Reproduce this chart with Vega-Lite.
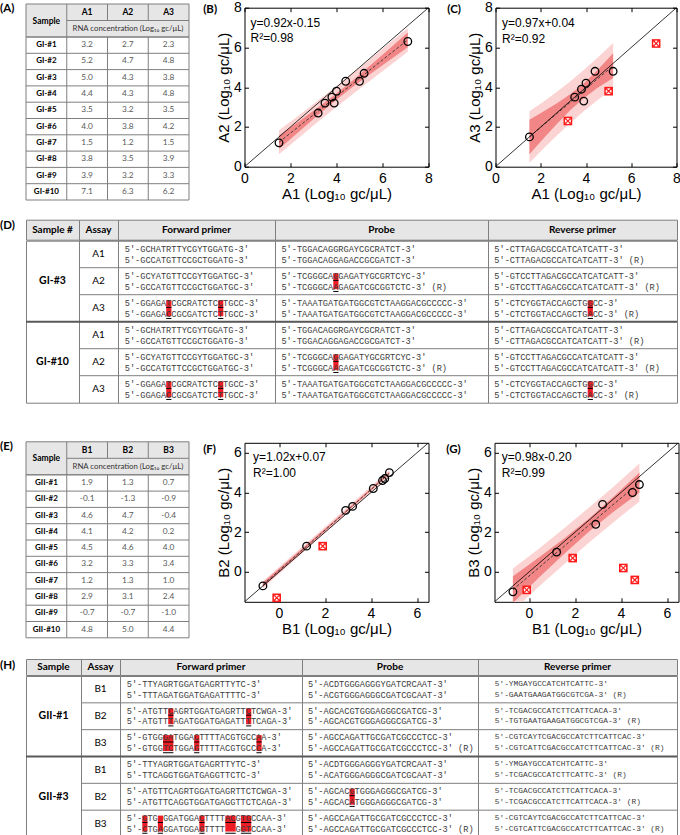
{
"$schema":"https://vega.github.io/schema/vega-lite/v6.json",
"background":"white",
"padding":{"left":0,"top":0,"right":0,"bottom":0},
"config":{
 "view":{"stroke":null},
 "concat":{"spacing":0},
 "locale":{"number":{"decimal":".","thousands":",","grouping":[3],"currency":["$",""],"minus":"-"}},
 "axis":{"grid":false,"domain":false,"tickSize":-4,"tickColor":"black","tickWidth":1,"labelFontSize":14,"labelFont":"Liberation Sans","labelColor":"black","labelFlush":false,"titleFont":"Liberation Sans","titleFontSize":15,"titleFontWeight":"normal","titleColor":"black"},
 "title":{"anchor":"start","frame":"group","font":"Lato","fontSize":11.5,"fontWeight":"bold","color":"black"}
},
"datasets":{
 "gi":[
  {"sample":"GI-#1","A1":3.2,"A2":2.7,"A3":2.3,"A3out":true},
  {"sample":"GI-#2","A1":5.2,"A2":4.7,"A3":4.8,"A3out":false},
  {"sample":"GI-#3","A1":5.0,"A2":4.3,"A3":3.8,"A3out":true},
  {"sample":"GI-#4","A1":4.4,"A2":4.3,"A3":4.8,"A3out":false},
  {"sample":"GI-#5","A1":3.5,"A2":3.2,"A3":3.5,"A3out":false},
  {"sample":"GI-#6","A1":4.0,"A2":3.8,"A3":4.2,"A3out":false},
  {"sample":"GI-#7","A1":1.5,"A2":1.2,"A3":1.5,"A3out":false},
  {"sample":"GI-#8","A1":3.8,"A2":3.5,"A3":3.9,"A3out":false},
  {"sample":"GI-#9","A1":3.9,"A2":3.2,"A3":3.3,"A3out":false},
  {"sample":"GI-#10","A1":7.1,"A2":6.3,"A3":6.2,"A3out":true}
 ],
 "gii":[
  {"sample":"GII-#1","B1":1.9,"B2":1.3,"B3":0.7,"B2out":true,"B3out":true},
  {"sample":"GII-#2","B1":-0.1,"B2":-1.3,"B3":-0.9,"B2out":true,"B3out":true},
  {"sample":"GII-#3","B1":4.6,"B2":4.7,"B3":-0.4,"B2out":false,"B3out":true},
  {"sample":"GII-#4","B1":4.1,"B2":4.2,"B3":0.2,"B2out":false,"B3out":true},
  {"sample":"GII-#5","B1":4.5,"B2":4.6,"B3":4.0,"B2out":false,"B3out":false},
  {"sample":"GII-#6","B1":3.2,"B2":3.3,"B3":3.4,"B2out":false,"B3out":false},
  {"sample":"GII-#7","B1":1.2,"B2":1.3,"B3":1.0,"B2out":false,"B3out":false},
  {"sample":"GII-#8","B1":2.9,"B2":3.1,"B3":2.4,"B2out":false,"B3out":false},
  {"sample":"GII-#9","B1":-0.7,"B2":-0.7,"B3":-1.0,"B2out":false,"B3out":false},
  {"sample":"GII-#10","B1":4.8,"B2":5.0,"B3":4.4,"B2out":false,"B3out":false}
 ],
 "bandB":[
  {"x":1.5,"fit":1.23,"clo":0.89,"chi":1.57,"plo":0.63,"phi":1.84},
  {"x":2.3,"fit":1.97,"clo":1.70,"chi":2.23,"plo":1.40,"phi":2.53},
  {"x":3.1,"fit":2.70,"clo":2.50,"chi":2.90,"plo":2.17,"phi":3.24},
  {"x":3.9,"fit":3.44,"clo":3.28,"chi":3.60,"plo":2.91,"phi":3.96},
  {"x":4.7,"fit":4.17,"clo":4.01,"chi":4.34,"plo":3.65,"phi":4.70},
  {"x":5.5,"fit":4.91,"clo":4.69,"chi":5.13,"plo":4.36,"phi":5.46},
  {"x":6.3,"fit":5.65,"clo":5.36,"chi":5.94,"plo":5.07,"phi":6.22},
  {"x":7.1,"fit":6.38,"clo":6.01,"chi":6.75,"plo":5.78,"phi":6.98}
 ],
 "bandC":[
  {"x":1.5,"fit":1.50,"clo":0.63,"chi":2.36,"plo":0.20,"phi":2.79},
  {"x":2.1,"fit":2.08,"clo":1.39,"chi":2.76,"plo":0.89,"phi":3.26},
  {"x":2.7,"fit":2.66,"clo":2.14,"chi":3.18,"plo":1.56,"phi":3.76},
  {"x":3.3,"fit":3.24,"clo":2.84,"chi":3.64,"plo":2.19,"phi":4.29},
  {"x":3.9,"fit":3.82,"clo":3.45,"chi":4.19,"plo":2.79,"phi":4.86},
  {"x":4.5,"fit":4.41,"clo":3.96,"chi":4.85,"plo":3.34,"phi":5.47},
  {"x":5.2,"fit":5.08,"clo":4.46,"chi":5.71,"plo":3.93,"phi":6.23}
 ],
 "bandF":[
  {"x":-0.7,"fit":-0.64,"clo":-0.76,"chi":-0.53,"plo":-0.83,"phi":-0.46},
  {"x":0.4,"fit":0.48,"clo":0.39,"chi":0.57,"plo":0.31,"phi":0.65},
  {"x":1.5,"fit":1.60,"clo":1.53,"chi":1.67,"plo":1.44,"phi":1.76},
  {"x":2.6,"fit":2.72,"clo":2.67,"chi":2.78,"plo":2.57,"phi":2.88},
  {"x":3.7,"fit":3.84,"clo":3.79,"chi":3.90,"plo":3.69,"phi":4.00},
  {"x":4.8,"fit":4.97,"clo":4.90,"chi":5.04,"plo":4.81,"phi":5.13}
 ],
 "bandG":[
  {"x":-0.7,"fit":-0.89,"clo":-1.56,"chi":-0.22,"plo":-1.94,"phi":0.17},
  {"x":0.4,"fit":0.19,"clo":-0.32,"chi":0.71,"plo":-0.77,"phi":1.15},
  {"x":1.5,"fit":1.27,"clo":0.88,"chi":1.66,"plo":0.37,"phi":2.17},
  {"x":2.6,"fit":2.35,"clo":2.02,"chi":2.68,"plo":1.47,"phi":3.23},
  {"x":3.7,"fit":3.43,"clo":3.05,"chi":3.81,"plo":2.53,"phi":4.32},
  {"x":4.8,"fit":4.50,"clo":4.00,"chi":5.00,"plo":3.55,"phi":5.46}
 ],
 "seqD":[
  {"sample":"GI-#3","assay":"A1","key":"GI-#3 A1","f1":"5′-GCHATRTTYCGYTGGATG-3′","f2":"5′-GCCATGTTCCGCTGGATG-3′","p1":"5′-TGGACAGGRGAYCGCRATCT-3′","p2":"5′-TGGACAGGAGACCGCGATCT-3′","r1":"5′-CTTAGACGCCATCATCATT-3′","r2":"5′-CTTAGACGCCATCATCATT-3′ (R)"},
  {"sample":"GI-#3","assay":"A2","key":"GI-#3 A2","f1":"5′-GCYATGTTCCGYTGGATGC-3′","f2":"5′-GCCATGTTCCGCTGGATGC-3′","p1":"5′-TCGGGCAGGAGATYGCGRTCYC-3′","p2":"5′-TCGGGCAAGAGATCGCGGTCTC-3′ (R)","r1":"5′-GTCCTTAGACGCCATCATCATT-3′","r2":"5′-GTCCTTAGACGCCATCATCATT-3′ (R)"},
  {"sample":"GI-#3","assay":"A3","key":"GI-#3 A3","f1":"5′-GGAGATCGCRATCTCCTGCC-3′","f2":"5′-GGAGACCGCGATCTCTTGCC-3′","p1":"5′-TAAATGATGATGGCGTCTAAGGACGCCCCC-3′","p2":"5′-TAAATGATGATGGCGTCTAAGGACGCCCCC-3′","r1":"5′-CTCYGGTACCAGCTGGCC-3′","r2":"5′-CTCTGGTACCAGCTGACC-3′ (R)"},
  {"sample":"GI-#10","assay":"A1","key":"GI-#10 A1","f1":"5′-GCHATRTTYCGYTGGATG-3′","f2":"5′-GCCATGTTCCGCTGGATG-3′","p1":"5′-TGGACAGGRGAYCGCRATCT-3′","p2":"5′-TGGACAGGAGACCGCGATCT-3′","r1":"5′-CTTAGACGCCATCATCATT-3′","r2":"5′-CTTAGACGCCATCATCATT-3′ (R)"},
  {"sample":"GI-#10","assay":"A2","key":"GI-#10 A2","f1":"5′-GCYATGTTCCGYTGGATGC-3′","f2":"5′-GCCATGTTCCGCTGGATGC-3′","p1":"5′-TCGGGCAGGAGATYGCGRTCYC-3′","p2":"5′-TCGGGCAAGAGATCGCGGTCTC-3′ (R)","r1":"5′-GTCCTTAGACGCCATCATCATT-3′","r2":"5′-GTCCTTAGACGCCATCATCATT-3′ (R)"},
  {"sample":"GI-#10","assay":"A3","key":"GI-#10 A3","f1":"5′-GGAGATCGCRATCTCCTGCC-3′","f2":"5′-GGAGACCGCGATCTCTTGCC-3′","p1":"5′-TAAATGATGATGGCGTCTAAGGACGCCCCC-3′","p2":"5′-TAAATGATGATGGCGTCTAAGGACGCCCCC-3′","r1":"5′-CTCYGGTACCAGCTGGCC-3′","r2":"5′-CTCTGGTACCAGCTGACC-3′ (R)"}
 ],
 "seqH":[
  {"sample":"GII-#1","assay":"B1","key":"GII-#1 B1","f1":"5′-TTYAGRTGGATGAGRTTYTC-3′","f2":"5′-TTTAGATGGATGAGATTTTC-3′","p1":"5′-ACDTGGGAGGGYGATCRCAAT-3′","p2":"5′-ACGTGGGAGGGCGATCGCAAT-3′","r1":"5′-YMGAYGCCATCHTCATTC-3′","r2":"5′-GAATGAAGATGGCGTCGA-3′ (R)"},
  {"sample":"GII-#1","assay":"B2","key":"GII-#1 B2","f1":"5′-ATGTTCAGRTGGATGAGRTTCTCWGA-3′","f2":"5′-ATGTTTAGATGGATGAGATTTTCAGA-3′","p1":"5′-AGCACGTGGGAGGGCGATCG-3′","p2":"5′-AGCACGTGGGAGGGCGATCG-3′","r1":"5′-TCGACGCCATCTTCATTCACA-3′","r2":"5′-TGTGAATGAAGATGGCGTCGA-3′ (R)"},
  {"sample":"GII-#1","assay":"B3","key":"GII-#1 B3","f1":"5′-GTGGGATGGACTTTTACGTGCCAA-3′","f2":"5′-GTGGTCTGGAGTTTTACGTGCCCA-3′","p1":"5′-AGCCAGATTGCGATCGCCCTCC-3′","p2":"5′-AGCCAGATTGCGATCGCCCTCC-3′ (R)","r1":"5′-CGTCAYTCGACGCCATCTTCATTCAC-3′","r2":"5′-CGTCATTCGACGCCATCTTCATTCAC-3′ (R)"},
  {"sample":"GII-#3","assay":"B1","key":"GII-#3 B1","f1":"5′-TTYAGRTGGATGAGRTTYTC-3′","f2":"5′-TTCAGGTGGATGAGGTTCTC-3′","p1":"5′-ACDTGGGAGGGYGATCRCAAT-3′","p2":"5′-ACATGGGAGGGCGATCGCAAT-3′","r1":"5′-YMGAYGCCATCHTCATTC-3′","r2":"5′-TCGACGCCATCTTCATTC-3′ (R)"},
  {"sample":"GII-#3","assay":"B2","key":"GII-#3 B2","f1":"5′-ATGTTCAGRTGGATGAGRTTCTCWGA-3′","f2":"5′-ATGTTCAGGTGGATGAGGTTCTCAGA-3′","p1":"5′-AGCACGTGGGAGGGCGATCG-3′","p2":"5′-AGCACATGGGAGGGCGATCG-3′","r1":"5′-TCGACGCCATCTTCATTCACA-3′","r2":"5′-TCGACGCCATCTTCATTCACA-3′ (R)"},
  {"sample":"GII-#3","assay":"B3","key":"GII-#3 B3","f1":"5′-GTG\u00a0GGATGGACTTTTACGTGCCAA-3′","f2":"5′-CTGAGGATGGAGTTTT\u00a0\u00a0GGTCCAA-3′","p1":"5′-AGCCAGATTGCGATCGCCCTCC-3′","p2":"5′-AGCCAGATTGCGATCGCCCTCC-3′ (R)","r1":"5′-CGTCAYTCGACGCCATCTTCATTCAC-3′","r2":"5′-CGTCATTCGACGCCATCTTCATTCAC-3′ (R)"}
 ],
 "hlDF":[{"key":"GI-#3 A3","s":8,"e":9},{"key":"GI-#3 A3","s":18,"e":19},{"key":"GI-#10 A3","s":8,"e":9},{"key":"GI-#10 A3","s":18,"e":19}],
 "hlDP":[{"key":"GI-#3 A2","s":10,"e":11},{"key":"GI-#10 A2","s":10,"e":11}],
 "hlDR":[{"key":"GI-#3 A3","s":18,"e":19},{"key":"GI-#10 A3","s":18,"e":19}],
 "hlHF":[{"key":"GII-#1 B2","s":8,"e":9},{"key":"GII-#1 B2","s":23,"e":24},{"key":"GII-#1 B3","s":7,"e":9},{"key":"GII-#1 B3","s":13,"e":14},{"key":"GII-#1 B3","s":25,"e":26},{"key":"GII-#3 B3","s":3,"e":4},{"key":"GII-#3 B3","s":6,"e":7},{"key":"GII-#3 B3","s":14,"e":15},{"key":"GII-#3 B3","s":19,"e":21},{"key":"GII-#3 B3","s":22,"e":24}],
 "hlHP":[{"key":"GII-#3 B2","s":8,"e":9}]
},
"vconcat":[
 {"vconcat":[
  {"hconcat":[
   {"title":{"text":"(A)","offset":-10.8,"dx":-26},"bounds":"flush","spacing":0,"vconcat":[
    {"width":163,"height":33,"view":{"fill":"#e7e6e6"},"layer":[
     {"data":{"values":[{"c":"A2"},{"c":"A3"}]},"mark":{"type":"rule","color":"#7f7f7f"},"encoding":{"x":{"field":"c","type":"nominal","bandPosition":0,"scale":{"type":"band","domain":["Sample","A1","A2","A3"],"paddingInner":0,"paddingOuter":0},"axis":null}}},
     {"data":{"values":[{"r":"h2"}]},"mark":{"type":"rect","color":"#e7e6e6"},"encoding":{"y":{"field":"r","type":"nominal","scale":{"type":"band","domain":["h1","h2"],"paddingInner":0,"paddingOuter":0},"axis":null}}},
     {"data":{"values":[{"r":"h2"}]},"mark":{"type":"rule","color":"#7f7f7f"},"encoding":{"y":{"field":"r","type":"nominal","bandPosition":0,"axis":null}}},
     {"data":{"values":[{"c":"Sample"}]},"mark":{"type":"rect","color":"#e7e6e6"},"encoding":{"x":{"field":"c","type":"nominal","axis":null}}},
     {"data":{"values":[{"c":"Sample"},{"c":"A1"}]},"mark":{"type":"rule","color":"#7f7f7f"},"encoding":{"x":{"field":"c","type":"nominal","bandPosition":0,"axis":null}}},
     {"data":{"values":[{"c":"A3"}]},"mark":{"type":"rule","color":"#7f7f7f"},"encoding":{"x":{"field":"c","type":"nominal","bandPosition":1,"axis":null}}},
     {"data":{"values":[{"r":"h1"}]},"mark":{"type":"rule","color":"#7f7f7f"},"encoding":{"y":{"field":"r","type":"nominal","bandPosition":0,"axis":null}}},
     {"data":{"values":[{"r":"h2"}]},"mark":{"type":"rule","color":"#7f7f7f"},"encoding":{"y":{"field":"r","type":"nominal","bandPosition":1,"axis":null}}},
     {"data":{"values":[{"c":"Sample","r":"h1","t":"Sample"}]},"mark":{"type":"text","font":"Lato","fontWeight":"bold","fontSize":8.5,"color":"black"},"encoding":{"x":{"field":"c","type":"nominal","axis":null},"y":{"field":"r","type":"nominal","bandPosition":1,"axis":null},"text":{"field":"t"}}},
     {"data":{"values":[{"c":"A1","r":"h1","t":"A1"},{"c":"A2","r":"h1","t":"A2"},{"c":"A3","r":"h1","t":"A3"}]},"mark":{"type":"text","font":"Lato","fontWeight":"bold","fontSize":8.5,"color":"black"},"encoding":{"x":{"field":"c","type":"nominal","axis":null},"y":{"field":"r","type":"nominal","axis":null},"text":{"field":"t"}}},
     {"data":{"values":[{"c":"A2","r":"h2","t":"RNA concentration (Log₁₀ gc/μL)"}]},"mark":{"type":"text","font":"Lato","fontSize":7.8,"color":"#333333"},"encoding":{"x":{"field":"c","type":"nominal","axis":null},"y":{"field":"r","type":"nominal","axis":null},"text":{"field":"t"}}}
    ]},
    {"width":163,"height":163,"layer":[
     {"data":{"name":"gi"},"mark":{"type":"rule","color":"#7f7f7f"},"encoding":{"y":{"field":"sample","type":"nominal","bandPosition":0,"scale":{"type":"band","domain":["GI-#1","GI-#2","GI-#3","GI-#4","GI-#5","GI-#6","GI-#7","GI-#8","GI-#9","GI-#10"],"paddingInner":0,"paddingOuter":0},"axis":null}}},
     {"data":{"values":[{"s":"GI-#10"}]},"mark":{"type":"rule","color":"#7f7f7f"},"encoding":{"y":{"field":"s","type":"nominal","bandPosition":1,"axis":null}}},
     {"data":{"values":[{"c":"Sample"},{"c":"A1"},{"c":"A2"},{"c":"A3"}]},"mark":{"type":"rule","color":"#7f7f7f"},"encoding":{"x":{"field":"c","type":"nominal","bandPosition":0,"scale":{"type":"band","domain":["Sample","A1","A2","A3"],"paddingInner":0,"paddingOuter":0},"axis":null}}},
     {"data":{"values":[{"c":"A3"}]},"mark":{"type":"rule","color":"#7f7f7f"},"encoding":{"x":{"field":"c","type":"nominal","bandPosition":1,"axis":null}}},
     {"data":{"name":"gi"},"mark":{"type":"text","font":"Lato","fontWeight":"bold","fontSize":8,"color":"black"},"encoding":{"x":{"datum":"Sample","type":"nominal","bandPosition":0.5,"axis":null},"y":{"field":"sample","type":"nominal","axis":null},"text":{"field":"sample"}}},
     {"data":{"name":"gi"},"transform":[{"fold":["A1","A2","A3"],"as":["col","val"]}],"mark":{"type":"text","font":"Lato","fontSize":8.3,"color":"#595959"},"encoding":{"x":{"field":"col","type":"nominal","axis":null},"y":{"field":"sample","type":"nominal","axis":null},"text":{"field":"val","type":"quantitative","format":".1f"}}}
    ]}
   ]},
   {"spacing":-5.3,"vconcat":[
    {"width":1,"height":1,"data":{"values":[]},"mark":"point"},
    {"spacing":13,"hconcat":[
    {"width":184,"height":159,"view":{"stroke":"black","strokeWidth":1},"title":{"text":"(B)","offset":-14.6,"dx":-41.3},
     "layer":[
      {"data":{"name":"bandB"},"mark":{"type":"area","color":"#fcd3d3","opacity":1,"clip":true},"encoding":{
        "x":{"field":"x","type":"quantitative","scale":{"domain":[0,8],"nice":false,"zero":false},"axis":{"orient":"bottom","values":[0,2,4,6,8],"title":"A1 (Log₁₀ gc/μL)","labelPadding":8.3,"titlePadding":1}},
        "y":{"field":"plo","type":"quantitative","scale":{"domain":[0,8],"nice":false,"zero":false},"axis":{"orient":"left","values":[0,2,4,6,8],"title":"A2 (Log₁₀ gc/μL)","labelPadding":7.3,"titlePadding":2}},
        "y2":{"field":"phi"}}},
      {"data":{"name":"bandB"},"mark":{"type":"area","color":"#f28585","opacity":1,"clip":true},"encoding":{"x":{"field":"x","type":"quantitative","axis":null},"y":{"field":"clo","type":"quantitative","axis":null},"y2":{"field":"chi"}}},
      {"data":{"name":"bandB"},"mark":{"type":"line","color":"#333333","strokeWidth":0.9,"strokeDash":[3,2],"clip":true},"encoding":{"x":{"field":"x","type":"quantitative","axis":null},"y":{"field":"fit","type":"quantitative","axis":null}}},
      {"data":{"values":[{"u":0},{"u":8}]},"mark":{"type":"line","color":"black","strokeWidth":0.8,"clip":true},"encoding":{"x":{"field":"u","type":"quantitative","axis":{"orient":"top","values":[0,2,4,6,8],"labels":false,"title":null}},"y":{"field":"u","type":"quantitative","axis":{"orient":"right","values":[0,2,4,6,8],"labels":false,"title":null}}}},
      {"data":{"name":"gi"},"mark":{"type":"point","shape":"circle","filled":false,"color":"black","strokeWidth":1.3,"size":58,"opacity":1},"encoding":{"x":{"field":"A1","type":"quantitative","axis":null},"y":{"field":"A2","type":"quantitative","axis":null}}},
      {"data":{"values":[{"t":"y=0.92x-0.15"}]},"mark":{"type":"text","align":"left","baseline":"middle","font":"Liberation Sans","fontSize":12,"color":"black"},"encoding":{"x":{"datum":0.26,"type":"quantitative","axis":null},"y":{"datum":7.25,"type":"quantitative","axis":null},"text":{"field":"t"}}},
      {"data":{"values":[{"t":"R²=0.98"}]},"mark":{"type":"text","align":"left","baseline":"middle","font":"Liberation Sans","fontSize":12,"color":"black"},"encoding":{"x":{"datum":0.26,"type":"quantitative","axis":null},"y":{"datum":6.46,"type":"quantitative","axis":null},"text":{"field":"t"}}}
     ],
     "resolve":{"axis":{"x":"independent","y":"independent"}}},
    {"width":181,"height":159,"view":{"stroke":"black","strokeWidth":1},"title":{"text":"(C)","offset":-14.6,"dx":-48.3},
     "layer":[
      {"data":{"name":"bandC"},"mark":{"type":"area","color":"#fcd3d3","opacity":1,"clip":true},"encoding":{
        "x":{"field":"x","type":"quantitative","scale":{"domain":[0,8],"nice":false,"zero":false},"axis":{"orient":"bottom","values":[0,2,4,6,8],"title":"A1 (Log₁₀ gc/μL)","labelPadding":8.3,"titlePadding":1}},
        "y":{"field":"plo","type":"quantitative","scale":{"domain":[0,8],"nice":false,"zero":false},"axis":{"orient":"left","values":[0,2,4,6,8],"title":"A3 (Log₁₀ gc/μL)","labelPadding":7.3,"titlePadding":2}},
        "y2":{"field":"phi"}}},
      {"data":{"name":"bandC"},"mark":{"type":"area","color":"#f28585","opacity":1,"clip":true},"encoding":{"x":{"field":"x","type":"quantitative","axis":null},"y":{"field":"clo","type":"quantitative","axis":null},"y2":{"field":"chi"}}},
      {"data":{"name":"bandC"},"mark":{"type":"line","color":"#333333","strokeWidth":0.9,"strokeDash":[3,2],"clip":true},"encoding":{"x":{"field":"x","type":"quantitative","axis":null},"y":{"field":"fit","type":"quantitative","axis":null}}},
      {"data":{"values":[{"u":0},{"u":8}]},"mark":{"type":"line","color":"black","strokeWidth":0.8,"clip":true},"encoding":{"x":{"field":"u","type":"quantitative","axis":{"orient":"top","values":[0,2,4,6,8],"labels":false,"title":null}},"y":{"field":"u","type":"quantitative","axis":{"orient":"right","values":[0,2,4,6,8],"labels":false,"title":null}}}},
      {"data":{"name":"gi"},"transform":[{"filter":"!datum.A3out"}],"mark":{"type":"point","shape":"circle","filled":false,"color":"black","strokeWidth":1.3,"size":58,"opacity":1},"encoding":{"x":{"field":"A1","type":"quantitative","axis":null},"y":{"field":"A3","type":"quantitative","axis":null}}},
      {"data":{"name":"gi"},"transform":[{"filter":"datum.A3out"}],"mark":{"type":"point","shape":"square","filled":true,"color":"#ff1a1a","size":75,"opacity":1},"encoding":{"x":{"field":"A1","type":"quantitative","axis":null},"y":{"field":"A3","type":"quantitative","axis":null}}},
      {"data":{"name":"gi"},"transform":[{"filter":"datum.A3out"}],"mark":{"type":"point","shape":"circle","filled":true,"color":"white","size":34,"opacity":1},"encoding":{"x":{"field":"A1","type":"quantitative","axis":null},"y":{"field":"A3","type":"quantitative","axis":null}}},
      {"data":{"name":"gi"},"transform":[{"filter":"datum.A3out"}],"mark":{"type":"point","shape":"M-0.75,-0.75L0.75,0.75M-0.75,0.75L0.75,-0.75","filled":false,"color":"#ff1a1a","strokeWidth":1.2,"size":34,"opacity":1},"encoding":{"x":{"field":"A1","type":"quantitative","axis":null},"y":{"field":"A3","type":"quantitative","axis":null}}},
      {"data":{"values":[{"t":"y=0.97x+0.04"}]},"mark":{"type":"text","align":"left","baseline":"middle","font":"Liberation Sans","fontSize":12,"color":"black"},"encoding":{"x":{"datum":0.29,"type":"quantitative","axis":null},"y":{"datum":7.21,"type":"quantitative","axis":null},"text":{"field":"t"}}},
      {"data":{"values":[{"t":"R²=0.92"}]},"mark":{"type":"text","align":"left","baseline":"middle","font":"Liberation Sans","fontSize":12,"color":"black"},"encoding":{"x":{"datum":0.29,"type":"quantitative","axis":null},"y":{"datum":6.44,"type":"quantitative","axis":null},"text":{"field":"t"}}}
     ],
     "resolve":{"axis":{"x":"independent","y":"independent"}}}
    ]}
   ]}
  ],"spacing":12.5},
  {"title":{"text":"(D)","offset":-12.5,"dx":-26},"spacing":-1,"vconcat":[
   {"bounds":"flush","spacing":0,"hconcat":[
    {"width":53,"height":20,"view":{"fill":"#e7e6e6","stroke":"#7f7f7f"},"data":{"values":[{"t":"Sample #"}]},"mark":{"type":"text","font":"Lato","fontWeight":"bold","fontSize":10,"color":"black"},"encoding":{"text":{"field":"t"}}},
    {"width":39,"height":20,"view":{"fill":"#e7e6e6","stroke":"#7f7f7f"},"data":{"values":[{"t":"Assay"}]},"mark":{"type":"text","font":"Lato","fontWeight":"bold","fontSize":10,"color":"black"},"encoding":{"text":{"field":"t"}}},
    {"width":157,"height":20,"view":{"fill":"#e7e6e6","stroke":"#7f7f7f"},"data":{"values":[{"t":"Forward primer"}]},"mark":{"type":"text","font":"Lato","fontWeight":"bold","fontSize":10,"color":"black"},"encoding":{"text":{"field":"t"}}},
    {"width":213,"height":20,"view":{"fill":"#e7e6e6","stroke":"#7f7f7f"},"data":{"values":[{"t":"Probe"}]},"mark":{"type":"text","font":"Lato","fontWeight":"bold","fontSize":10,"color":"black"},"encoding":{"text":{"field":"t"}}},
    {"width":189,"height":20,"view":{"fill":"#e7e6e6","stroke":"#7f7f7f"},"data":{"values":[{"t":"Reverse primer"}]},"mark":{"type":"text","font":"Lato","fontWeight":"bold","fontSize":10,"color":"black"},"encoding":{"text":{"field":"t"}}}
   ]},
   {"bounds":"flush","spacing":0,"hconcat":[
    {"width":53,"height":162,"view":{"stroke":"#7f7f7f"},"layer":[
     {"data":{"values":[{"s":"GI-#3"},{"s":"GI-#10"}]},"mark":{"type":"text","font":"Lato","fontWeight":"bold","fontSize":10.5,"color":"black"},"encoding":{"y":{"field":"s","type":"nominal","scale":{"type":"band","domain":["GI-#3","GI-#10"],"paddingInner":0,"paddingOuter":0},"axis":null},"text":{"field":"s"}}},
     {"data":{"values":[{"s":"GI-#10"}]},"mark":{"type":"rule","color":"#595959","strokeWidth":2},"encoding":{"y":{"field":"s","type":"nominal","bandPosition":0,"axis":null}}}
    ]},
    {"width":39,"height":162,"view":{"stroke":"#7f7f7f"},"layer":[
     {"data":{"name":"seqD"},"mark":{"type":"rule","color":"#7f7f7f"},"encoding":{"y":{"field":"key","type":"nominal","bandPosition":0,"scale":{"type":"band","domain":["GI-#3 A1","GI-#3 A2","GI-#3 A3","GI-#10 A1","GI-#10 A2","GI-#10 A3"],"paddingInner":0,"paddingOuter":0},"axis":null}}},
     {"data":{"values":[{"key":"GI-#10 A1"}]},"mark":{"type":"rule","color":"#595959","strokeWidth":2},"encoding":{"y":{"field":"key","type":"nominal","bandPosition":0,"axis":null}}},
     {"data":{"name":"seqD"},"mark":{"type":"text","font":"Lato","fontSize":10,"color":"black"},"encoding":{"y":{"field":"key","type":"nominal","axis":null},"text":{"field":"assay"}}}
    ]},
    {"width":157,"height":162,"view":{"stroke":"#7f7f7f"},"layer":[
     {"data":{"name":"hlDF"},"mark":{"type":"rect","color":"#ee1c25","height":16},"encoding":{"x":{"field":"s","type":"quantitative","scale":{"domain":[-1.291,28.959],"nice":false,"zero":false},"axis":null},"x2":{"field":"e"},"y":{"field":"key","type":"nominal","scale":{"type":"band","domain":["GI-#3 A1","GI-#3 A2","GI-#3 A3","GI-#10 A1","GI-#10 A2","GI-#10 A3"],"paddingInner":0,"paddingOuter":0},"axis":null}}},
     {"data":{"name":"hlDF"},"mark":{"type":"rule","color":"black","strokeWidth":1},"encoding":{"x":{"field":"s","type":"quantitative","axis":null},"x2":{"field":"e"},"y":{"field":"key","type":"nominal","bandPosition":0.47,"axis":null}}},
     {"data":{"name":"hlDF"},"mark":{"type":"rule","color":"black","strokeWidth":1},"encoding":{"x":{"field":"s","type":"quantitative","axis":null},"x2":{"field":"e"},"y":{"field":"key","type":"nominal","bandPosition":0.88,"axis":null}}},
     {"data":{"name":"seqD"},"mark":{"type":"rule","color":"#7f7f7f"},"encoding":{"y":{"field":"key","type":"nominal","bandPosition":0,"axis":null}}},
     {"data":{"values":[{"key":"GI-#10 A1"}]},"mark":{"type":"rule","color":"#595959","strokeWidth":2},"encoding":{"y":{"field":"key","type":"nominal","bandPosition":0,"axis":null}}},
     {"data":{"name":"seqD"},"mark":{"type":"text","align":"left","baseline":"middle","font":"Liberation Mono","fontSize":8.65,"color":"#3c3c3c"},"encoding":{"x":{"datum":0,"type":"quantitative","axis":null},"y":{"field":"key","type":"nominal","bandPosition":0.3,"axis":null},"text":{"field":"f1"}}},
     {"data":{"name":"seqD"},"mark":{"type":"text","align":"left","baseline":"middle","font":"Liberation Mono","fontSize":8.65,"color":"#3c3c3c"},"encoding":{"x":{"datum":0,"type":"quantitative","axis":null},"y":{"field":"key","type":"nominal","bandPosition":0.71,"axis":null},"text":{"field":"f2"}}}
    ]},
    {"width":213,"height":162,"view":{"stroke":"#7f7f7f"},"layer":[
     {"data":{"name":"hlDP"},"mark":{"type":"rect","color":"#ee1c25","height":16},"encoding":{"x":{"field":"s","type":"quantitative","scale":{"domain":[-1.233,39.807],"nice":false,"zero":false},"axis":null},"x2":{"field":"e"},"y":{"field":"key","type":"nominal","scale":{"type":"band","domain":["GI-#3 A1","GI-#3 A2","GI-#3 A3","GI-#10 A1","GI-#10 A2","GI-#10 A3"],"paddingInner":0,"paddingOuter":0},"axis":null}}},
     {"data":{"name":"hlDP"},"mark":{"type":"rule","color":"black","strokeWidth":1},"encoding":{"x":{"field":"s","type":"quantitative","axis":null},"x2":{"field":"e"},"y":{"field":"key","type":"nominal","bandPosition":0.47,"axis":null}}},
     {"data":{"name":"hlDP"},"mark":{"type":"rule","color":"black","strokeWidth":1},"encoding":{"x":{"field":"s","type":"quantitative","axis":null},"x2":{"field":"e"},"y":{"field":"key","type":"nominal","bandPosition":0.88,"axis":null}}},
     {"data":{"name":"seqD"},"mark":{"type":"rule","color":"#7f7f7f"},"encoding":{"y":{"field":"key","type":"nominal","bandPosition":0,"axis":null}}},
     {"data":{"values":[{"key":"GI-#10 A1"}]},"mark":{"type":"rule","color":"#595959","strokeWidth":2},"encoding":{"y":{"field":"key","type":"nominal","bandPosition":0,"axis":null}}},
     {"data":{"name":"seqD"},"mark":{"type":"text","align":"left","baseline":"middle","font":"Liberation Mono","fontSize":8.65,"color":"#3c3c3c"},"encoding":{"x":{"datum":0,"type":"quantitative","axis":null},"y":{"field":"key","type":"nominal","bandPosition":0.3,"axis":null},"text":{"field":"p1"}}},
     {"data":{"name":"seqD"},"mark":{"type":"text","align":"left","baseline":"middle","font":"Liberation Mono","fontSize":8.65,"color":"#3c3c3c"},"encoding":{"x":{"datum":0,"type":"quantitative","axis":null},"y":{"field":"key","type":"nominal","bandPosition":0.71,"axis":null},"text":{"field":"p2"}}}
    ]},
    {"width":189,"height":162,"view":{"stroke":"#7f7f7f"},"layer":[
     {"data":{"name":"hlDR"},"mark":{"type":"rect","color":"#ee1c25","height":16},"encoding":{"x":{"field":"s","type":"quantitative","scale":{"domain":[-1.214,35.202],"nice":false,"zero":false},"axis":null},"x2":{"field":"e"},"y":{"field":"key","type":"nominal","scale":{"type":"band","domain":["GI-#3 A1","GI-#3 A2","GI-#3 A3","GI-#10 A1","GI-#10 A2","GI-#10 A3"],"paddingInner":0,"paddingOuter":0},"axis":null}}},
     {"data":{"name":"hlDR"},"mark":{"type":"rule","color":"black","strokeWidth":1},"encoding":{"x":{"field":"s","type":"quantitative","axis":null},"x2":{"field":"e"},"y":{"field":"key","type":"nominal","bandPosition":0.47,"axis":null}}},
     {"data":{"name":"hlDR"},"mark":{"type":"rule","color":"black","strokeWidth":1},"encoding":{"x":{"field":"s","type":"quantitative","axis":null},"x2":{"field":"e"},"y":{"field":"key","type":"nominal","bandPosition":0.88,"axis":null}}},
     {"data":{"name":"seqD"},"mark":{"type":"rule","color":"#7f7f7f"},"encoding":{"y":{"field":"key","type":"nominal","bandPosition":0,"axis":null}}},
     {"data":{"values":[{"key":"GI-#10 A1"}]},"mark":{"type":"rule","color":"#595959","strokeWidth":2},"encoding":{"y":{"field":"key","type":"nominal","bandPosition":0,"axis":null}}},
     {"data":{"name":"seqD"},"mark":{"type":"text","align":"left","baseline":"middle","font":"Liberation Mono","fontSize":8.65,"color":"#3c3c3c"},"encoding":{"x":{"datum":0,"type":"quantitative","axis":null},"y":{"field":"key","type":"nominal","bandPosition":0.3,"axis":null},"text":{"field":"r1"}}},
     {"data":{"name":"seqD"},"mark":{"type":"text","align":"left","baseline":"middle","font":"Liberation Mono","fontSize":8.65,"color":"#3c3c3c"},"encoding":{"x":{"datum":0,"type":"quantitative","axis":null},"y":{"field":"key","type":"nominal","bandPosition":0.71,"axis":null},"text":{"field":"r2"}}}
    ]}
   ]}
  ]}
 ],"spacing":16.7},
 {"vconcat":[
  {"hconcat":[
   {"title":{"text":"(E)","offset":-11.5,"dx":-26},"bounds":"flush","spacing":0,"vconcat":[
    {"width":163,"height":33,"view":{"fill":"#e7e6e6"},"layer":[
     {"data":{"values":[{"c":"B2"},{"c":"B3"}]},"mark":{"type":"rule","color":"#7f7f7f"},"encoding":{"x":{"field":"c","type":"nominal","bandPosition":0,"scale":{"type":"band","domain":["Sample","B1","B2","B3"],"paddingInner":0,"paddingOuter":0},"axis":null}}},
     {"data":{"values":[{"r":"h2"}]},"mark":{"type":"rect","color":"#e7e6e6"},"encoding":{"y":{"field":"r","type":"nominal","scale":{"type":"band","domain":["h1","h2"],"paddingInner":0,"paddingOuter":0},"axis":null}}},
     {"data":{"values":[{"r":"h2"}]},"mark":{"type":"rule","color":"#7f7f7f"},"encoding":{"y":{"field":"r","type":"nominal","bandPosition":0,"axis":null}}},
     {"data":{"values":[{"c":"Sample"}]},"mark":{"type":"rect","color":"#e7e6e6"},"encoding":{"x":{"field":"c","type":"nominal","axis":null}}},
     {"data":{"values":[{"c":"Sample"},{"c":"B1"}]},"mark":{"type":"rule","color":"#7f7f7f"},"encoding":{"x":{"field":"c","type":"nominal","bandPosition":0,"axis":null}}},
     {"data":{"values":[{"c":"B3"}]},"mark":{"type":"rule","color":"#7f7f7f"},"encoding":{"x":{"field":"c","type":"nominal","bandPosition":1,"axis":null}}},
     {"data":{"values":[{"r":"h1"}]},"mark":{"type":"rule","color":"#7f7f7f"},"encoding":{"y":{"field":"r","type":"nominal","bandPosition":0,"axis":null}}},
     {"data":{"values":[{"r":"h2"}]},"mark":{"type":"rule","color":"#7f7f7f"},"encoding":{"y":{"field":"r","type":"nominal","bandPosition":1,"axis":null}}},
     {"data":{"values":[{"c":"Sample","r":"h1","t":"Sample"}]},"mark":{"type":"text","font":"Lato","fontWeight":"bold","fontSize":8.5,"color":"black"},"encoding":{"x":{"field":"c","type":"nominal","axis":null},"y":{"field":"r","type":"nominal","bandPosition":1,"axis":null},"text":{"field":"t"}}},
     {"data":{"values":[{"c":"B1","r":"h1","t":"B1"},{"c":"B2","r":"h1","t":"B2"},{"c":"B3","r":"h1","t":"B3"}]},"mark":{"type":"text","font":"Lato","fontWeight":"bold","fontSize":8.5,"color":"black"},"encoding":{"x":{"field":"c","type":"nominal","axis":null},"y":{"field":"r","type":"nominal","axis":null},"text":{"field":"t"}}},
     {"data":{"values":[{"c":"B2","r":"h2","t":"RNA concentration (Log₁₀ gc/μL)"}]},"mark":{"type":"text","font":"Lato","fontSize":7.8,"color":"#333333"},"encoding":{"x":{"field":"c","type":"nominal","axis":null},"y":{"field":"r","type":"nominal","axis":null},"text":{"field":"t"}}}
    ]},
    {"width":163,"height":163,"layer":[
     {"data":{"name":"gii"},"mark":{"type":"rule","color":"#7f7f7f"},"encoding":{"y":{"field":"sample","type":"nominal","bandPosition":0,"scale":{"type":"band","domain":["GII-#1","GII-#2","GII-#3","GII-#4","GII-#5","GII-#6","GII-#7","GII-#8","GII-#9","GII-#10"],"paddingInner":0,"paddingOuter":0},"axis":null}}},
     {"data":{"values":[{"s":"GII-#10"}]},"mark":{"type":"rule","color":"#7f7f7f"},"encoding":{"y":{"field":"s","type":"nominal","bandPosition":1,"axis":null}}},
     {"data":{"values":[{"c":"Sample"},{"c":"B1"},{"c":"B2"},{"c":"B3"}]},"mark":{"type":"rule","color":"#7f7f7f"},"encoding":{"x":{"field":"c","type":"nominal","bandPosition":0,"scale":{"type":"band","domain":["Sample","B1","B2","B3"],"paddingInner":0,"paddingOuter":0},"axis":null}}},
     {"data":{"values":[{"c":"B3"}]},"mark":{"type":"rule","color":"#7f7f7f"},"encoding":{"x":{"field":"c","type":"nominal","bandPosition":1,"axis":null}}},
     {"data":{"name":"gii"},"mark":{"type":"text","font":"Lato","fontWeight":"bold","fontSize":8,"color":"black"},"encoding":{"x":{"datum":"Sample","type":"nominal","bandPosition":0.5,"axis":null},"y":{"field":"sample","type":"nominal","axis":null},"text":{"field":"sample"}}},
     {"data":{"name":"gii"},"transform":[{"fold":["B1","B2","B3"],"as":["col","val"]}],"mark":{"type":"text","font":"Lato","fontSize":8.3,"color":"#595959"},"encoding":{"x":{"field":"col","type":"nominal","axis":null},"y":{"field":"sample","type":"nominal","axis":null},"text":{"field":"val","type":"quantitative","format":".1f"}}}
    ]}
   ]},
   {"spacing":-2.7,"vconcat":[
    {"width":1,"height":1,"data":{"values":[]},"mark":"point"},
    {"spacing":16,"hconcat":[
    {"width":184,"height":159,"view":{"stroke":"black","strokeWidth":1},"title":{"text":"(F)","offset":-12.7,"dx":-41.3},
     "layer":[
      {"data":{"name":"bandF"},"mark":{"type":"area","color":"#fcd3d3","opacity":1,"clip":true},"encoding":{
        "x":{"field":"x","type":"quantitative","scale":{"domain":[-1.5,6.5],"nice":false,"zero":false},"axis":{"orient":"bottom","values":[0,2,4,6],"title":"B1 (Log₁₀ gc/μL)","labelPadding":8.3,"titlePadding":1}},
        "y":{"field":"plo","type":"quantitative","scale":{"domain":[-1.5,6.5],"nice":false,"zero":false},"axis":{"orient":"left","values":[0,2,4,6],"title":"B2 (Log₁₀ gc/μL)","labelPadding":7.3,"titlePadding":2}},
        "y2":{"field":"phi"}}},
      {"data":{"name":"bandF"},"mark":{"type":"area","color":"#f28585","opacity":1,"clip":true},"encoding":{"x":{"field":"x","type":"quantitative","axis":null},"y":{"field":"clo","type":"quantitative","axis":null},"y2":{"field":"chi"}}},
      {"data":{"name":"bandF"},"mark":{"type":"line","color":"#333333","strokeWidth":0.9,"strokeDash":[3,2],"clip":true},"encoding":{"x":{"field":"x","type":"quantitative","axis":null},"y":{"field":"fit","type":"quantitative","axis":null}}},
      {"data":{"values":[{"u":-1.5},{"u":6.5}]},"mark":{"type":"line","color":"black","strokeWidth":0.8,"clip":true},"encoding":{"x":{"field":"u","type":"quantitative","axis":{"orient":"top","values":[0,2,4,6],"labels":false,"title":null}},"y":{"field":"u","type":"quantitative","axis":{"orient":"right","values":[0,2,4,6],"labels":false,"title":null}}}},
      {"data":{"name":"gii"},"transform":[{"filter":"!datum.B2out"}],"mark":{"type":"point","shape":"circle","filled":false,"color":"black","strokeWidth":1.3,"size":58,"opacity":1},"encoding":{"x":{"field":"B1","type":"quantitative","axis":null},"y":{"field":"B2","type":"quantitative","axis":null}}},
      {"data":{"name":"gii"},"transform":[{"filter":"datum.B2out"}],"mark":{"type":"point","shape":"square","filled":true,"color":"#ff1a1a","size":75,"opacity":1},"encoding":{"x":{"field":"B1","type":"quantitative","axis":null},"y":{"field":"B2","type":"quantitative","axis":null}}},
      {"data":{"name":"gii"},"transform":[{"filter":"datum.B2out"}],"mark":{"type":"point","shape":"circle","filled":true,"color":"white","size":34,"opacity":1},"encoding":{"x":{"field":"B1","type":"quantitative","axis":null},"y":{"field":"B2","type":"quantitative","axis":null}}},
      {"data":{"name":"gii"},"transform":[{"filter":"datum.B2out"}],"mark":{"type":"point","shape":"M-0.75,-0.75L0.75,0.75M-0.75,0.75L0.75,-0.75","filled":false,"color":"#ff1a1a","strokeWidth":1.2,"size":34,"opacity":1},"encoding":{"x":{"field":"B1","type":"quantitative","axis":null},"y":{"field":"B2","type":"quantitative","axis":null}}},
      {"data":{"values":[{"t":"y=1.02x+0.07"}]},"mark":{"type":"text","align":"left","baseline":"middle","font":"Liberation Sans","fontSize":12,"color":"black"},"encoding":{"x":{"datum":-1.13,"type":"quantitative","axis":null},"y":{"datum":5.8,"type":"quantitative","axis":null},"text":{"field":"t"}}},
      {"data":{"values":[{"t":"R²=1.00"}]},"mark":{"type":"text","align":"left","baseline":"middle","font":"Liberation Sans","fontSize":12,"color":"black"},"encoding":{"x":{"datum":-1.13,"type":"quantitative","axis":null},"y":{"datum":4.99,"type":"quantitative","axis":null},"text":{"field":"t"}}}
     ],
     "resolve":{"axis":{"x":"independent","y":"independent"}}},
    {"width":184,"height":159,"view":{"stroke":"black","strokeWidth":1},"title":{"text":"(G)","offset":-12.7,"dx":-48.3},
     "layer":[
      {"data":{"name":"bandG"},"mark":{"type":"area","color":"#fcd3d3","opacity":1,"clip":true},"encoding":{
        "x":{"field":"x","type":"quantitative","scale":{"domain":[-1.5,6.5],"nice":false,"zero":false},"axis":{"orient":"bottom","values":[0,2,4,6],"title":"B1 (Log₁₀ gc/μL)","labelPadding":8.3,"titlePadding":1}},
        "y":{"field":"plo","type":"quantitative","scale":{"domain":[-1.5,6.5],"nice":false,"zero":false},"axis":{"orient":"left","values":[0,2,4,6],"title":"B3 (Log₁₀ gc/μL)","labelPadding":7.3,"titlePadding":2}},
        "y2":{"field":"phi"}}},
      {"data":{"name":"bandG"},"mark":{"type":"area","color":"#f28585","opacity":1,"clip":true},"encoding":{"x":{"field":"x","type":"quantitative","axis":null},"y":{"field":"clo","type":"quantitative","axis":null},"y2":{"field":"chi"}}},
      {"data":{"name":"bandG"},"mark":{"type":"line","color":"#333333","strokeWidth":0.9,"strokeDash":[3,2],"clip":true},"encoding":{"x":{"field":"x","type":"quantitative","axis":null},"y":{"field":"fit","type":"quantitative","axis":null}}},
      {"data":{"values":[{"u":-1.5},{"u":6.5}]},"mark":{"type":"line","color":"black","strokeWidth":0.8,"clip":true},"encoding":{"x":{"field":"u","type":"quantitative","axis":{"orient":"top","values":[0,2,4,6],"labels":false,"title":null}},"y":{"field":"u","type":"quantitative","axis":{"orient":"right","values":[0,2,4,6],"labels":false,"title":null}}}},
      {"data":{"name":"gii"},"transform":[{"filter":"!datum.B3out"}],"mark":{"type":"point","shape":"circle","filled":false,"color":"black","strokeWidth":1.3,"size":58,"opacity":1},"encoding":{"x":{"field":"B1","type":"quantitative","axis":null},"y":{"field":"B3","type":"quantitative","axis":null}}},
      {"data":{"name":"gii"},"transform":[{"filter":"datum.B3out"}],"mark":{"type":"point","shape":"square","filled":true,"color":"#ff1a1a","size":75,"opacity":1},"encoding":{"x":{"field":"B1","type":"quantitative","axis":null},"y":{"field":"B3","type":"quantitative","axis":null}}},
      {"data":{"name":"gii"},"transform":[{"filter":"datum.B3out"}],"mark":{"type":"point","shape":"circle","filled":true,"color":"white","size":34,"opacity":1},"encoding":{"x":{"field":"B1","type":"quantitative","axis":null},"y":{"field":"B3","type":"quantitative","axis":null}}},
      {"data":{"name":"gii"},"transform":[{"filter":"datum.B3out"}],"mark":{"type":"point","shape":"M-0.75,-0.75L0.75,0.75M-0.75,0.75L0.75,-0.75","filled":false,"color":"#ff1a1a","strokeWidth":1.2,"size":34,"opacity":1},"encoding":{"x":{"field":"B1","type":"quantitative","axis":null},"y":{"field":"B3","type":"quantitative","axis":null}}},
      {"data":{"values":[{"t":"y=0.98x-0.20"}]},"mark":{"type":"text","align":"left","baseline":"middle","font":"Liberation Sans","fontSize":12,"color":"black"},"encoding":{"x":{"datum":-1.18,"type":"quantitative","axis":null},"y":{"datum":5.8,"type":"quantitative","axis":null},"text":{"field":"t"}}},
      {"data":{"values":[{"t":"R²=0.99"}]},"mark":{"type":"text","align":"left","baseline":"middle","font":"Liberation Sans","fontSize":12,"color":"black"},"encoding":{"x":{"datum":-1.18,"type":"quantitative","axis":null},"y":{"datum":4.99,"type":"quantitative","axis":null},"text":{"field":"t"}}}
     ],
     "resolve":{"axis":{"x":"independent","y":"independent"}}}
    ]}
   ]}
  ],"spacing":12.5},
  {"title":{"text":"(H)","offset":-12.5,"dx":-26},"spacing":-1,"vconcat":[
   {"bounds":"flush","spacing":0,"hconcat":[
    {"width":55,"height":16,"view":{"fill":"#e7e6e6","stroke":"#7f7f7f"},"data":{"values":[{"t":"Sample"}]},"mark":{"type":"text","font":"Lato","fontWeight":"bold","fontSize":10,"color":"black"},"encoding":{"text":{"field":"t"}}},
    {"width":39,"height":16,"view":{"fill":"#e7e6e6","stroke":"#7f7f7f"},"data":{"values":[{"t":"Assay"}]},"mark":{"type":"text","font":"Lato","fontWeight":"bold","fontSize":10,"color":"black"},"encoding":{"text":{"field":"t"}}},
    {"width":182,"height":16,"view":{"fill":"#e7e6e6","stroke":"#7f7f7f"},"data":{"values":[{"t":"Forward primer"}]},"mark":{"type":"text","font":"Lato","fontWeight":"bold","fontSize":10,"color":"black"},"encoding":{"text":{"field":"t"}}},
    {"width":176,"height":16,"view":{"fill":"#e7e6e6","stroke":"#7f7f7f"},"data":{"values":[{"t":"Probe"}]},"mark":{"type":"text","font":"Lato","fontWeight":"bold","fontSize":10,"color":"black"},"encoding":{"text":{"field":"t"}}},
    {"width":199,"height":16,"view":{"fill":"#e7e6e6","stroke":"#7f7f7f"},"data":{"values":[{"t":"Reverse primer"}]},"mark":{"type":"text","font":"Lato","fontWeight":"bold","fontSize":10,"color":"black"},"encoding":{"text":{"field":"t"}}}
   ]},
   {"bounds":"flush","spacing":0,"hconcat":[
    {"width":55,"height":161,"view":{"stroke":"#7f7f7f"},"layer":[
     {"data":{"values":[{"s":"GII-#1"},{"s":"GII-#3"}]},"mark":{"type":"text","font":"Lato","fontWeight":"bold","fontSize":10.5,"color":"black"},"encoding":{"y":{"field":"s","type":"nominal","scale":{"type":"band","domain":["GII-#1","GII-#3"],"paddingInner":0,"paddingOuter":0},"axis":null},"text":{"field":"s"}}},
     {"data":{"values":[{"s":"GII-#3"}]},"mark":{"type":"rule","color":"#595959","strokeWidth":2},"encoding":{"y":{"field":"s","type":"nominal","bandPosition":0,"axis":null}}}
    ]},
    {"width":39,"height":161,"view":{"stroke":"#7f7f7f"},"layer":[
     {"data":{"name":"seqH"},"mark":{"type":"rule","color":"#7f7f7f"},"encoding":{"y":{"field":"key","type":"nominal","bandPosition":0,"scale":{"type":"band","domain":["GII-#1 B1","GII-#1 B2","GII-#1 B3","GII-#3 B1","GII-#3 B2","GII-#3 B3"],"paddingInner":0,"paddingOuter":0},"axis":null}}},
     {"data":{"values":[{"key":"GII-#3 B1"}]},"mark":{"type":"rule","color":"#595959","strokeWidth":2},"encoding":{"y":{"field":"key","type":"nominal","bandPosition":0,"axis":null}}},
     {"data":{"name":"seqH"},"mark":{"type":"text","font":"Lato","fontSize":10,"color":"black"},"encoding":{"y":{"field":"key","type":"nominal","axis":null},"text":{"field":"assay"}}}
    ]},
    {"width":182,"height":161,"view":{"stroke":"#7f7f7f"},"layer":[
     {"data":{"name":"hlHF"},"mark":{"type":"rect","color":"#ee1c25","height":16},"encoding":{"x":{"field":"s","type":"quantitative","scale":{"domain":[-1.291,33.776],"nice":false,"zero":false},"axis":null},"x2":{"field":"e"},"y":{"field":"key","type":"nominal","scale":{"type":"band","domain":["GII-#1 B1","GII-#1 B2","GII-#1 B3","GII-#3 B1","GII-#3 B2","GII-#3 B3"],"paddingInner":0,"paddingOuter":0},"axis":null}}},
     {"data":{"name":"hlHF"},"mark":{"type":"rule","color":"black","strokeWidth":1},"encoding":{"x":{"field":"s","type":"quantitative","axis":null},"x2":{"field":"e"},"y":{"field":"key","type":"nominal","bandPosition":0.46,"axis":null}}},
     {"data":{"name":"hlHF"},"mark":{"type":"rule","color":"black","strokeWidth":1},"encoding":{"x":{"field":"s","type":"quantitative","axis":null},"x2":{"field":"e"},"y":{"field":"key","type":"nominal","bandPosition":0.86,"axis":null}}},
     {"data":{"name":"seqH"},"mark":{"type":"rule","color":"#7f7f7f"},"encoding":{"y":{"field":"key","type":"nominal","bandPosition":0,"axis":null}}},
     {"data":{"values":[{"key":"GII-#3 B1"}]},"mark":{"type":"rule","color":"#595959","strokeWidth":2},"encoding":{"y":{"field":"key","type":"nominal","bandPosition":0,"axis":null}}},
     {"data":{"name":"seqH"},"mark":{"type":"text","align":"left","baseline":"middle","font":"Liberation Mono","fontSize":8.65,"color":"#3c3c3c"},"encoding":{"x":{"datum":0,"type":"quantitative","axis":null},"y":{"field":"key","type":"nominal","bandPosition":0.29,"axis":null},"text":{"field":"f1"}}},
     {"data":{"name":"seqH"},"mark":{"type":"text","align":"left","baseline":"middle","font":"Liberation Mono","fontSize":8.65,"color":"#3c3c3c"},"encoding":{"x":{"datum":0,"type":"quantitative","axis":null},"y":{"field":"key","type":"nominal","bandPosition":0.69,"axis":null},"text":{"field":"f2"}}}
    ]},
    {"width":176,"height":161,"view":{"stroke":"#7f7f7f"},"layer":[
     {"data":{"name":"hlHP"},"mark":{"type":"rect","color":"#ee1c25","height":16},"encoding":{"x":{"field":"s","type":"quantitative","scale":{"domain":[-1.156,32.755],"nice":false,"zero":false},"axis":null},"x2":{"field":"e"},"y":{"field":"key","type":"nominal","scale":{"type":"band","domain":["GII-#1 B1","GII-#1 B2","GII-#1 B3","GII-#3 B1","GII-#3 B2","GII-#3 B3"],"paddingInner":0,"paddingOuter":0},"axis":null}}},
     {"data":{"name":"hlHP"},"mark":{"type":"rule","color":"black","strokeWidth":1},"encoding":{"x":{"field":"s","type":"quantitative","axis":null},"x2":{"field":"e"},"y":{"field":"key","type":"nominal","bandPosition":0.46,"axis":null}}},
     {"data":{"name":"hlHP"},"mark":{"type":"rule","color":"black","strokeWidth":1},"encoding":{"x":{"field":"s","type":"quantitative","axis":null},"x2":{"field":"e"},"y":{"field":"key","type":"nominal","bandPosition":0.86,"axis":null}}},
     {"data":{"name":"seqH"},"mark":{"type":"rule","color":"#7f7f7f"},"encoding":{"y":{"field":"key","type":"nominal","bandPosition":0,"axis":null}}},
     {"data":{"values":[{"key":"GII-#3 B1"}]},"mark":{"type":"rule","color":"#595959","strokeWidth":2},"encoding":{"y":{"field":"key","type":"nominal","bandPosition":0,"axis":null}}},
     {"data":{"name":"seqH"},"mark":{"type":"text","align":"left","baseline":"middle","font":"Liberation Mono","fontSize":8.65,"color":"#3c3c3c"},"encoding":{"x":{"datum":0,"type":"quantitative","axis":null},"y":{"field":"key","type":"nominal","bandPosition":0.29,"axis":null},"text":{"field":"p1"}}},
     {"data":{"name":"seqH"},"mark":{"type":"text","align":"left","baseline":"middle","font":"Liberation Mono","fontSize":8.65,"color":"#3c3c3c"},"encoding":{"x":{"datum":0,"type":"quantitative","axis":null},"y":{"field":"key","type":"nominal","bandPosition":0.69,"axis":null},"text":{"field":"p2"}}}
    ]},
    {"width":199,"height":161,"view":{"stroke":"#7f7f7f"},"layer":[
     {"data":{"name":"seqH"},"mark":{"type":"rule","color":"#7f7f7f"},"encoding":{"y":{"field":"key","type":"nominal","bandPosition":0,"scale":{"type":"band","domain":["GII-#1 B1","GII-#1 B2","GII-#1 B3","GII-#3 B1","GII-#3 B2","GII-#3 B3"],"paddingInner":0,"paddingOuter":0},"axis":null}}},
     {"data":{"values":[{"key":"GII-#3 B1"}]},"mark":{"type":"rule","color":"#595959","strokeWidth":2},"encoding":{"y":{"field":"key","type":"nominal","bandPosition":0,"axis":null}}},
     {"data":{"name":"seqH"},"mark":{"type":"text","align":"left","baseline":"middle","font":"Liberation Mono","fontSize":7.87,"color":"#3c3c3c"},"encoding":{"x":{"datum":0,"type":"quantitative","scale":{"domain":[-3.538,38.623],"nice":false,"zero":false},"axis":null},"y":{"field":"key","type":"nominal","bandPosition":0.29,"axis":null},"text":{"field":"r1"}}},
     {"data":{"name":"seqH"},"mark":{"type":"text","align":"left","baseline":"middle","font":"Liberation Mono","fontSize":7.87,"color":"#3c3c3c"},"encoding":{"x":{"datum":0,"type":"quantitative","axis":null},"y":{"field":"key","type":"nominal","bandPosition":0.69,"axis":null},"text":{"field":"r2"}}}
    ]}
   ]}
  ]}
 ],"spacing":19.2}
],
"spacing":36.8
}
